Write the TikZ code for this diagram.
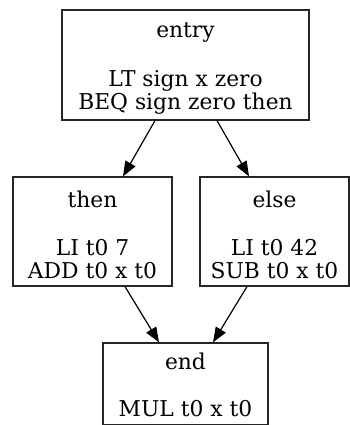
\documentclass[tikz,border=0pt]{standalone}
\usepackage{fontspec}
\setmainfont{DejaVu Serif}
\usetikzlibrary{arrows.meta}
\begin{document}
\begin{tikzpicture}[x=1pt,y=-1pt,
  blk/.style={draw=black!85, line width=1.2pt, rectangle, inner sep=0pt, align=center,
    font=\fontsize{21.8pt}{23pt}\selectfont},
  arr/.style={draw=black, line width=1.2pt, -{Triangle[length=15pt,width=11.5pt]}}]
\useasboundingbox (0,0) rectangle (350,425);
\node[blk, minimum width=247pt, minimum height=110pt] (entry) at (185.5,65)
  {\rule{0pt}{21pt}entry\\[26pt]LT sign x zero\\BEQ sign zero then};
\node[blk, minimum width=159pt, minimum height=109pt] (then) at (92.5,231.5)
  {\rule{0pt}{23pt}then\\[25pt]LI t0 7\\ADD t0 x t0};
\node[blk, minimum width=149pt, minimum height=109pt] (else) at (274.5,231.5)
  {\rule{0pt}{23pt}else\\[25pt]LI t0 42\\SUB t0 x t0};
\node[blk, minimum width=165pt, minimum height=82pt] (end) at (185.5,384)
  {\rule{0pt}{19pt}end\\[24pt]MUL t0 x t0};
\draw[arr] ([xshift=-30.5pt]entry.south) -- ([xshift=30.5pt]then.north);
\draw[arr] ([xshift=31.5pt]entry.south) -- ([xshift=-25.5pt]else.north);
\draw[arr] ([xshift=32.5pt]then.south) -- ([xshift=-26.5pt]end.north);
\draw[arr] ([xshift=-27.5pt]else.south) -- ([xshift=27.5pt]end.north);
\end{tikzpicture}
\end{document}
